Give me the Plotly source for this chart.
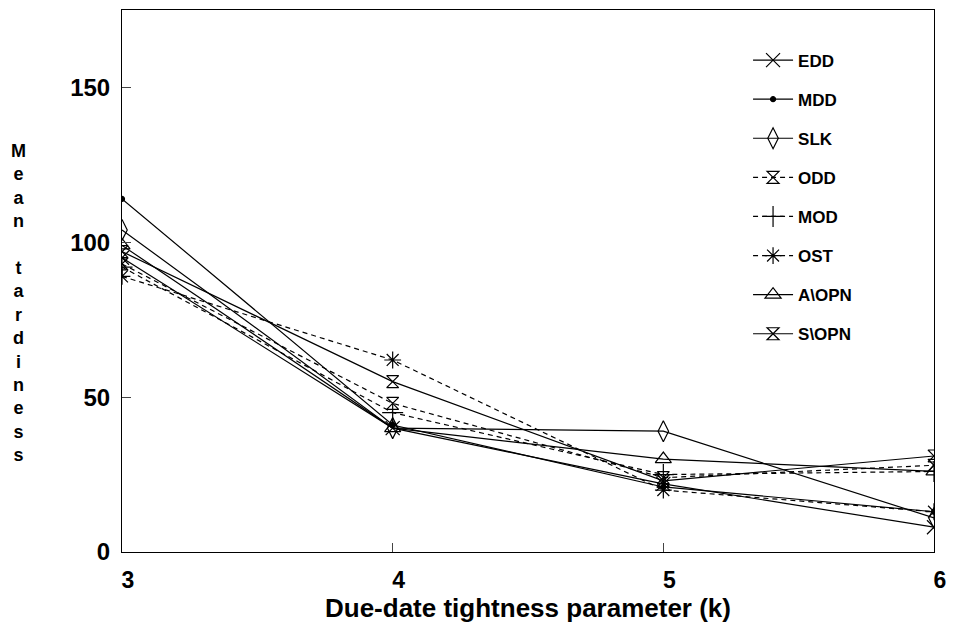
import plotly.graph_objects as go

k_values = [3, 4, 5, 6]

series_names = ["EDD", "MDD", "SLK", "ODD", "MOD", "OST", "A\\OPN", "S\\OPN"]
edd = [95, 40, 22, 8]
mdd = [114, 41, 21, 13]
slk = [104, 40, 39, 11]
odd = [93, 48, 24, 28]
mod = [92, 45, 25, 26]
ost = [89, 62, 20, 13]
a_opn = [99, 40, 30, 26]
s_opn = [97, 55, 23, 31]
series_values = [edd, mdd, slk, odd, mod, ost, a_opn, s_opn]

y_ticks = [0, 50, 100, 150]
x_ticks = [3, 4, 5, 6]

styles = [
    dict(symbol="x-thin-open", size=14, dash="solid"),
    dict(symbol="circle", size=5, dash="solid"),
    dict(symbol="diamond-tall-open", size=15, dash="solid"),
    dict(symbol="hourglass-open", size=12, dash="5px,4px"),
    dict(symbol="cross-thin-open", size=15, dash="5px,4px"),
    dict(symbol="asterisk-open", size=14, dash="5px,4px"),
    dict(symbol="triangle-up-open", size=14, dash="solid"),
    dict(symbol="hourglass-open", size=12, dash="solid"),
]

fig = go.Figure()
for i, (name, vals, st) in enumerate(zip(series_names, series_values, styles)):
    fig.add_trace(go.Scatter(
        x=k_values, y=vals, name=name, mode="lines+markers",
        legendgroup=f"g{i}",
        line=dict(color="black", width=1.2, dash=st["dash"]),
        marker=dict(symbol=st["symbol"], size=st["size"], color="black",
                    line=dict(color="black", width=1.2)),
    ))

ylabel = "<br>".join(list("Mean")) + "<br> <br>" + "<br>".join(list("tardiness"))

fig.update_layout(
    width=955, height=632,
    margin=dict(l=122, r=13, t=9, b=80),
    paper_bgcolor="white", plot_bgcolor="white",
    font=dict(family="Liberation Sans, Arial, sans-serif", color="black"),
    showlegend=True,
    legend=dict(x=0.771, y=0.94, xanchor="left", yanchor="top",
                bgcolor="rgba(0,0,0,0)", tracegroupgap=14,
                font=dict(size=17, family="Liberation Sans, Arial, sans-serif", weight="bold"),
                itemwidth=40),
    xaxis=dict(range=[3, 6], tickvals=x_ticks, ticks="inside", ticklen=9,
               showgrid=False, zeroline=False, showline=True, linecolor="black",
               linewidth=1, mirror=True,
               tickfont=dict(size=23, weight="bold"),
               ticklabelstandoff=7, ticklabelshift=6,
               title=dict(text="Due-date tightness parameter (k)",
                          font=dict(size=26, weight="bold"), standoff=5)),
    yaxis=dict(range=[0, 175], tickvals=y_ticks, ticks="inside", ticklen=9,
               showgrid=False, zeroline=False, showline=True, linecolor="black",
               linewidth=1, mirror=True,
               tickfont=dict(size=24, weight="bold"), ticklabelstandoff=6),
    annotations=[dict(text=ylabel, xref="paper", yref="paper", x=-0.127, y=0.46,
                      xanchor="center", yanchor="middle", showarrow=False,
                      font=dict(size=18, weight="bold"), align="center")],
)

fig.write_html("out.html")
